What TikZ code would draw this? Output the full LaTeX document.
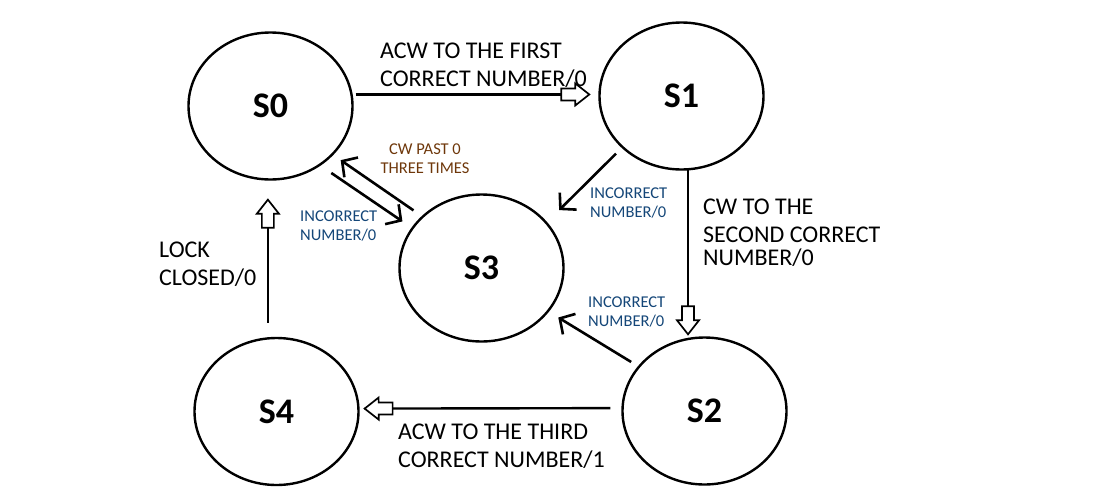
\documentclass[tikz,border=0pt]{standalone}
\usepackage{fontspec}
\setmainfont{Carlito}
\usetikzlibrary{shapes,arrows.meta,calc}
\definecolor{incblue}{RGB}{20,70,120}
\definecolor{cwbrown}{RGB}{110,55,10}

\begin{document}
\begin{tikzpicture}[x=1pt,y=-1pt,
  state/.style={ellipse,draw,line width=2.4pt,minimum width=164pt,minimum height=147pt,inner sep=0pt,font=\fontsize{36}{40}\selectfont\bfseries},
  blockhead/.pic={\draw[line width=1.7pt,fill=white,line join=miter] (0,0) -- (-14,-11) -- (-14,-6) -- (-28,-6) -- (-28,6) -- (-14,6) -- (-14,11) -- cycle;},
  bigarrow/.style={line width=2.4pt},
  thinarrow/.style={line width=2.6pt,-{Straight Barb[length=11pt,width=24pt,line width=2.6pt]}},
  biglabel/.style={align=left,anchor=base west,inner sep=0pt,font=\fontsize{24}{28}\selectfont},
  smalllabel/.style={align=left,anchor=base west,inner sep=0pt,text=incblue,font=\fontsize{16.5}{18.5}\selectfont}]
\useasboundingbox (0,0) rectangle (1096,496);
\node[state] (s0) at (270.5,106) {S0};
\node[state] (s1) at (681.5,96) {S1};
\node[state] (s3) at (481.5,268) {S3};
\node[state] (s2) at (704.5,411) {S2};
\node[state] (s4) at (276.5,411.5) {S4};
\draw[bigarrow,shorten <=3pt] (s0.8) -- ($(s0.8 -| s1.west)!9pt!(s0.8)$) pic[pos=1,sloped,allow upside down]{blockhead};
\draw[bigarrow] (s1.-85) -- ($(s1.-85 |- s2.north)!2pt!(s1.-85)$) pic[pos=1,sloped,allow upside down]{blockhead};
\draw[bigarrow,shorten <=11pt] (s2.178) -- ($(s4.2)!5pt!(s2.178)$) pic[pos=1,sloped,allow upside down]{blockhead};
\draw[bigarrow,shorten <=14pt] (s4.north -| s0.-92) -- ($(s0.-92)!19pt!(s4.north -| s0.-92)$) pic[pos=1,sloped,allow upside down]{blockhead};
\draw[thinarrow,shorten <=8pt,shorten >=17pt] (s1.221) -- (s3.35);
\draw[thinarrow,shorten <=8pt,shorten >=11pt] (s2.146) -- (s3.-33);
\draw[thinarrow,shorten <=13pt,shorten >=11pt] (s0.-50) -- (s3.150);
\draw[thinarrow,shorten <=10pt,shorten >=9pt] (s3.139) -- (s0.-38);
\node[biglabel] (l01) at (380,86) {ACW TO THE FIRST\\CORRECT NUMBER/0};
\node[biglabel] (l12) at (703,265) {CW TO THE\\SECOND CORRECT\\[-5pt]NUMBER/0};
\node[biglabel] (l24) at (398,467) {ACW TO THE THIRD\\CORRECT NUMBER/1};
\node[biglabel] (l40) at (159,285) {LOCK\\CLOSED/0};
\node[smalllabel] (i13) at (590,217) {INCORRECT\\NUMBER/0};
\node[smalllabel] (i23) at (588,326) {INCORRECT\\NUMBER/0};
\node[smalllabel] (i03) at (300,240) {INCORRECT\\NUMBER/0};
\node[smalllabel,align=center,anchor=base,text=cwbrown] (c30) at (425,173) {CW PAST 0\\THREE TIMES};
\end{tikzpicture}
\end{document}
